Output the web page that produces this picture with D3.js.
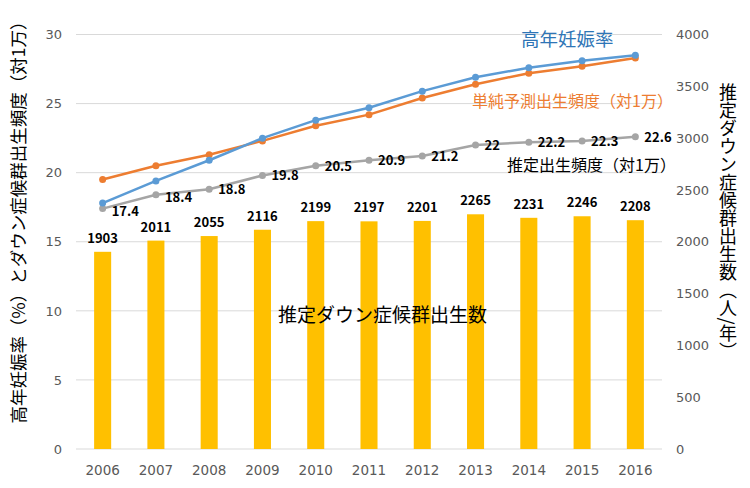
<!DOCTYPE html>
<html><head><meta charset="utf-8">
<script src="https://cdn.jsdelivr.net/npm/d3@7"></script>
<style>
html,body{margin:0;padding:0;background:#fff;}
svg{display:block;font-family:"Noto Sans CJK JP","Noto Sans",sans-serif;}
</style></head>
<body>
<svg id="chart" width="750" height="488"></svg>
<script>
const years = ["2006","2007","2008","2009","2010","2011","2012","2013","2014","2015","2016"];
const births = [1903,2011,2055,2116,2199,2197,2201,2265,2231,2246,2208];
const advancedRate = [17.8,19.4,20.9,22.5,23.8,24.7,25.9,26.9,27.6,28.1,28.5];
const simplePredicted = [19.5,20.5,21.3,22.3,23.4,24.2,25.4,26.4,27.2,27.7,28.3];
const estimatedFreq = [17.4,18.4,18.8,19.8,20.5,20.9,21.2,22,22.2,22.3,22.6];
const leftTicks = [0,5,10,15,20,25,30];
const rightTicks = [0,500,1000,1500,2000,2500,3000,3500,4000];

const svg = d3.select("#chart");
const L = 76, R = 662, T = 34.5, B = 449;
const tickFont = "'DejaVu Sans',Verdana,sans-serif";

const x = d3.scaleBand().domain(years).range([L, R]).paddingInner(0.68).paddingOuter(0.34);
const cx = d => x(d) + x.bandwidth() / 2;
const yL = d3.scaleLinear().domain([0, 30]).range([B, T]);
const yR = d3.scaleLinear().domain([0, 4000]).range([B, T]);

// gridlines
svg.append("g").selectAll("line").data(leftTicks).join("line")
  .attr("x1", L).attr("x2", R)
  .attr("y1", d => yL(d)).attr("y2", d => yL(d))
  .attr("stroke", "#d9d9d9").attr("stroke-width", 1);

// left axis
const gl = svg.append("g").attr("transform", `translate(${L},0)`)
  .call(d3.axisLeft(yL).tickValues(leftTicks).tickSize(0).tickPadding(14));
gl.select(".domain").remove();
gl.selectAll("text").attr("fill", "#595959").style("font-size", "13px")
  .style("font-family", tickFont);

// right axis
const gr = svg.append("g").attr("transform", `translate(${R},0)`)
  .call(d3.axisRight(yR).tickValues(rightTicks).tickFormat(d3.format("d")).tickSize(0).tickPadding(14));
gr.select(".domain").remove();
gr.selectAll("text").attr("fill", "#595959").style("font-size", "13px")
  .style("font-family", tickFont);

// x axis
const gx = svg.append("g").attr("transform", `translate(0,${B})`)
  .call(d3.axisBottom(x).tickSize(0).tickPadding(16));
gx.select(".domain").remove();
gx.selectAll("text").attr("fill", "#595959").style("font-size", "13.5px")
  .style("font-family", tickFont);

// bars
const data = years.map((y, i) => ({y, b: births[i], a: advancedRate[i], s: simplePredicted[i], e: estimatedFreq[i]}));
svg.append("g").selectAll("rect").data(data).join("rect")
  .attr("x", d => x(d.y)).attr("width", x.bandwidth())
  .attr("y", d => yR(d.b)).attr("height", d => yR(0) - yR(d.b))
  .attr("fill", "#FFC000");
svg.append("g").selectAll("text").data(data).join("text")
  .attr("x", d => cx(d.y)).attr("y", d => yR(d.b) - 9)
  .attr("text-anchor", "middle").attr("font-weight", "bold")
  .attr("font-size", 13).attr("fill", "#000").text(d => d.b);

// lines
function drawLine(key, color) {
  const line = d3.line().x(d => cx(d.y)).y(d => yL(d[key]));
  svg.append("path").datum(data).attr("d", line)
    .attr("fill", "none").attr("stroke", color).attr("stroke-width", 2.5)
    .attr("stroke-linejoin", "round");
  svg.append("g").selectAll("circle").data(data).join("circle")
    .attr("cx", d => cx(d.y)).attr("cy", d => yL(d[key])).attr("r", 3.5)
    .attr("fill", color);
}
drawLine("e", "#A5A5A5");
drawLine("s", "#ED7D31");
drawLine("a", "#5B9BD5");

// gray labels
svg.append("g").selectAll("text").data(data).join("text")
  .attr("x", d => cx(d.y) + 9).attr("y", (d, i) => yL(d.e) + (i < 2 ? 7 : 5))
  .attr("font-weight", "bold").attr("font-size", 13).attr("fill", "#000")
  .text(d => d.e);

// annotations
svg.append("text").attr("x", 521).attr("y", 46).attr("font-size", 18.5)
  .attr("fill", "#2E75B6").text("高年妊娠率");
svg.append("text").attr("x", 472).attr("y", 107).attr("font-size", 16)
  .attr("fill", "#ED7D31").text("単純予測出生頻度（対1万）");
svg.append("text").attr("x", 507).attr("y", 171).attr("font-size", 16)
  .attr("fill", "#000").text("推定出生頻度（対1万）");
svg.append("text").attr("x", 278).attr("y", 322).attr("font-size", 19)
  .attr("fill", "#000").text("推定ダウン症候群出生数");

// axis titles
svg.append("text").attr("transform", "translate(25,218) rotate(-90)")
  .attr("text-anchor", "middle").attr("font-size", 17.5).attr("fill", "#000")
  .text("高年妊娠率（%）とダウン症候群出生頻度（対1万）");
svg.append("text").attr("x", 728).attr("y", 222)
  .style("writing-mode", "vertical-rl")
  .attr("text-anchor", "middle").attr("font-size", 18).attr("fill", "#000")
  .text("推定ダウン症候群出生数（人/年）");
</script>
</body></html>
